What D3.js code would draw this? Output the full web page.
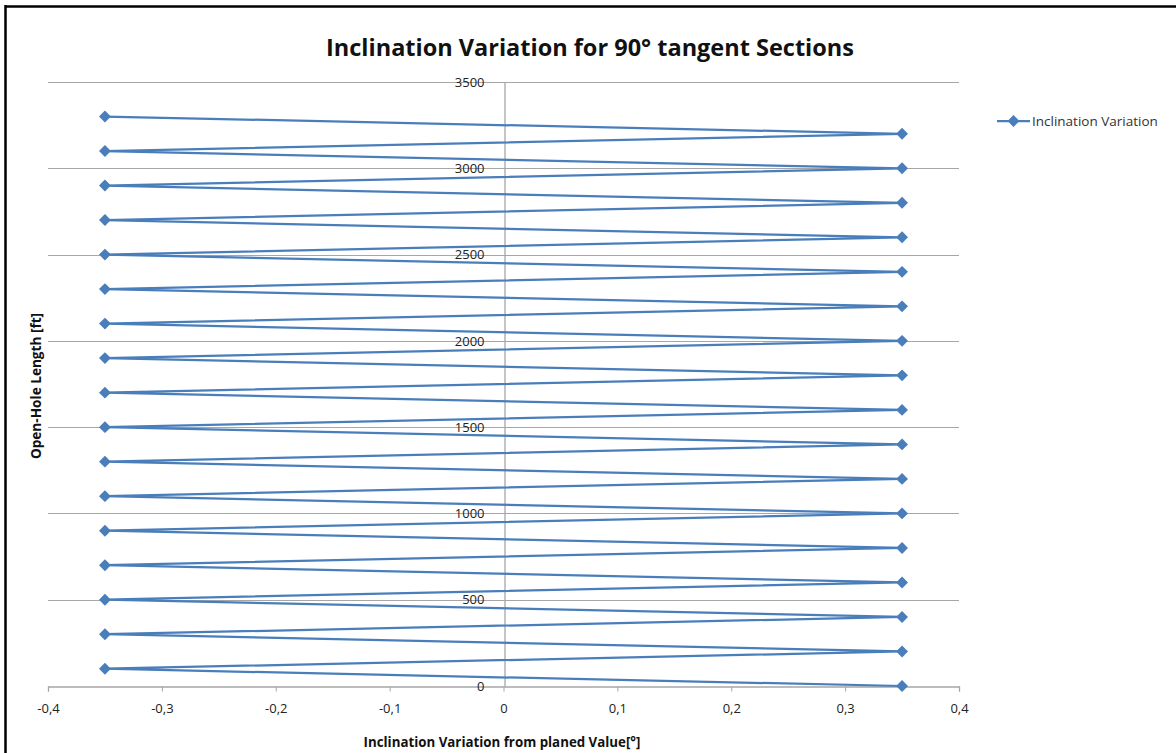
<!DOCTYPE html>
<html>
<head>
<meta charset="utf-8">
<script src="https://cdn.jsdelivr.net/npm/d3@7"></script>
<style>
  body { margin: 0; background: #fff; }
  text { font-family: "Open Sans", "Noto Sans", sans-serif; }
</style>
</head>
<body>
<svg id="chart"></svg>
<script>
// Data
const lengths = [0, 100, 200, 300, 400, 500, 600, 700, 800, 900, 1000, 1100, 1200, 1300, 1400, 1500, 1600,
  1700, 1800, 1900, 2000, 2100, 2200, 2300, 2400, 2500, 2600, 2700, 2800, 2900, 3000, 3100, 3200, 3300];
const variations = [0.35, -0.35, 0.35, -0.35, 0.35, -0.35, 0.35, -0.35, 0.35, -0.35, 0.35, -0.35, 0.35, -0.35,
  0.35, -0.35, 0.35, -0.35, 0.35, -0.35, 0.35, -0.35, 0.35, -0.35, 0.35, -0.35, 0.35, -0.35, 0.35, -0.35,
  0.35, -0.35, 0.35, -0.35];
const xTicks = [-0.4, -0.3, -0.2, -0.1, 0, 0.1, 0.2, 0.3, 0.4];
const yTicks = [0, 500, 1000, 1500, 2000, 2500, 3000, 3500];
const seriesName = "Inclination Variation";

const W = 1176, H = 753;
const plot = { left: 48, right: 959, top: 82, bottom: 686 };
const blue = "#4a7ebb";

const svg = d3.select("#chart").attr("width", W).attr("height", H);

// Outer frame (top and left edges visible)
svg.append("line").attr("x1", 5).attr("x2", W).attr("y1", 6.5).attr("y2", 6.5)
  .attr("stroke", "#000").attr("stroke-width", 2.5);
svg.append("line").attr("x1", 5.5).attr("x2", 5.5).attr("y1", 5).attr("y2", H)
  .attr("stroke", "#000").attr("stroke-width", 2.5);

const x = d3.scaleLinear().domain([-0.4, 0.4]).range([plot.left, plot.right]);
const y = d3.scaleLinear().domain([0, 3500]).range([plot.bottom, plot.top]);

// Horizontal gridlines
svg.append("g").selectAll("line").data(yTicks.filter(d => d > 0)).enter().append("line")
  .attr("x1", plot.left).attr("x2", plot.right)
  .attr("y1", d => Math.round(y(d)) + 0.5).attr("y2", d => Math.round(y(d)) + 0.5)
  .attr("stroke", "#a6a6a6").attr("stroke-width", 1);

// X axis along bottom
const xAxis = svg.append("g")
  .attr("transform", `translate(0,${Math.round(y(0)) + 0.5})`)
  .call(d3.axisBottom(x).tickValues(xTicks).tickSize(5).tickPadding(12)
    .tickFormat(d => d === 0 ? "0" : d3.format(".1f")(d).replace(".", ",").replace("−", "-")));
xAxis.select(".domain").attr("stroke", "#a6a6a6").attr("stroke-width", 1.3);
xAxis.selectAll(".tick line").attr("stroke", "#a6a6a6");
xAxis.selectAll(".tick text").attr("font-size", 13).attr("fill", "#222")
  .style("font-family", "'Open Sans', sans-serif");

// Y axis crossing at x = 0
const yAxis = svg.append("g")
  .attr("transform", `translate(${Math.round(x(0)) + 0.5},0)`)
  .call(d3.axisLeft(y).tickValues(yTicks).tickSize(0).tickPadding(20).tickFormat(d3.format("d")));
yAxis.select(".domain").attr("stroke", "#a6a6a6").attr("stroke-width", 1.3);
yAxis.selectAll(".tick text").attr("font-size", 13).attr("fill", "#222")
  .style("font-family", "'Open Sans', sans-serif");

// Series line
const pts = lengths.map((l, i) => [variations[i], l]);
svg.append("path").datum(pts)
  .attr("fill", "none").attr("stroke", blue).attr("stroke-width", 2.25)
  .attr("d", d3.line().x(d => x(d[0])).y(d => y(d[1])));

const diamond = d3.symbol().type(d3.symbolDiamond2).size(90);
svg.append("g").selectAll("path").data(pts).enter().append("path")
  .attr("transform", d => `translate(${x(d[0])},${y(d[1])})`)
  .attr("d", diamond).attr("fill", blue);

// Title
svg.append("text").attr("x", 590).attr("y", 56).attr("text-anchor", "middle")
  .attr("font-size", 23.5).attr("font-weight", "bold").attr("fill", "#111")
  .text("Inclination Variation for 90° tangent Sections");

// Axis titles
svg.append("text").attr("x", 502).attr("y", 747).attr("text-anchor", "middle")
  .attr("font-size", 13.3).attr("font-weight", "bold").attr("fill", "#111")
  .text("Inclination Variation from planed Value[°]");
svg.append("text").attr("transform", "translate(41,386) rotate(-90)").attr("text-anchor", "middle")
  .attr("font-size", 13.6).attr("font-weight", "bold").attr("fill", "#111")
  .text("Open-Hole Length [ft]");

// Legend
const lg = svg.append("g").attr("transform", "translate(997,121)");
lg.append("line").attr("x1", 0).attr("x2", 33).attr("stroke", blue).attr("stroke-width", 2.25);
lg.append("path").attr("transform", "translate(16.5,0)").attr("d", diamond).attr("fill", blue);
lg.append("text").attr("x", 35).attr("y", 4.5).attr("font-size", 13.5).attr("fill", "#333")
  .text(seriesName);
</script>
</body>
</html>
